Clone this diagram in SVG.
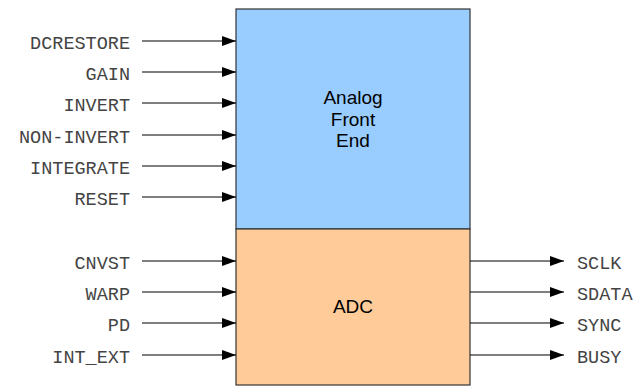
<svg xmlns="http://www.w3.org/2000/svg" width="636" height="386" viewBox="0 0 636 386">
<style>
.sig{font-family:"Liberation Mono","Courier New",monospace;font-size:18.5px;fill:#444}
.l{text-anchor:end}
.blk{font-family:"Liberation Sans",Arial,sans-serif;font-size:19px;fill:#000;text-anchor:middle}
.w{stroke:#000;stroke-width:1.2;fill:none;marker-end:url(#ah)}
.box{stroke:#333;stroke-width:1.2}
</style>
<defs>
<marker id="ah" markerUnits="userSpaceOnUse" markerWidth="14" markerHeight="10" refX="14" refY="5" orient="auto">
<path d="M0,0 L14,5 L0,10 Z" fill="#000"/>
</marker>
</defs>
<g id="afe">
<rect class="box" x="236" y="9" width="234" height="220" fill="#99ccff"/>
<text class="blk" x="353" y="104">Analog</text>
<text class="blk" x="353" y="125.5">Front</text>
<text class="blk" x="353" y="147">End</text>
</g>
<g id="adc">
<rect class="box" x="236" y="229" width="234" height="156" fill="#ffcc99"/>
<text class="blk" x="353" y="313">ADC</text>
</g>
<g id="connectors">
<path class="w" d="M142,41 H236"/>
<path class="w" d="M142,72 H236"/>
<path class="w" d="M142,103 H236"/>
<path class="w" d="M142,135 H236"/>
<path class="w" d="M142,166 H236"/>
<path class="w" d="M142,197 H236"/>
<path class="w" d="M142,261 H236"/>
<path class="w" d="M142,292 H236"/>
<path class="w" d="M142,323 H236"/>
<path class="w" d="M142,355 H236"/>
<path class="w" d="M470,261 H564"/>
<path class="w" d="M470,292 H564"/>
<path class="w" d="M470,323 H564"/>
<path class="w" d="M470,355 H564"/>
</g>
<g id="labels">
<text class="sig l" x="130" y="49">DCRESTORE</text>
<text class="sig l" x="130" y="80">GAIN</text>
<text class="sig l" x="130" y="111">INVERT</text>
<text class="sig l" x="130" y="143">NON-INVERT</text>
<text class="sig l" x="130" y="174">INTEGRATE</text>
<text class="sig l" x="130" y="205">RESET</text>
<text class="sig l" x="130" y="269">CNVST</text>
<text class="sig l" x="130" y="300">WARP</text>
<text class="sig l" x="130" y="331">PD</text>
<text class="sig l" x="130" y="363">INT_EXT</text>
<text class="sig" x="577" y="269">SCLK</text>
<text class="sig" x="577" y="300">SDATA</text>
<text class="sig" x="577" y="331">SYNC</text>
<text class="sig" x="577" y="363">BUSY</text>
</g>
</svg>
